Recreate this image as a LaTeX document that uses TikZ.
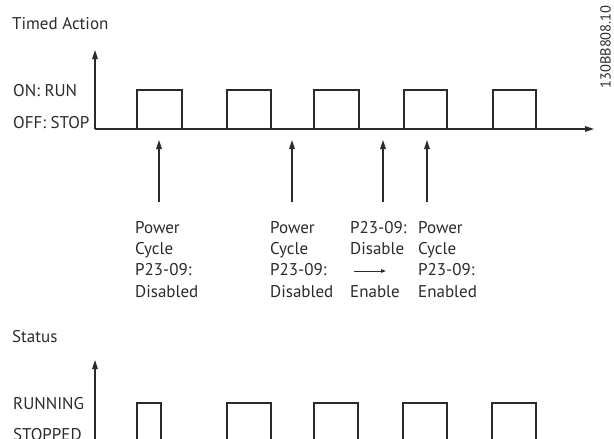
\documentclass[tikz,border=0pt]{standalone}
\usepackage{fontspec}
\setmainfont{PT Sans}
\usetikzlibrary{arrows.meta}
\definecolor{ink}{HTML}{2B2B2B}
\tikzset{
  sig/.style={draw=ink,line width=1.3pt},
  axis/.style={draw=ink,line width=1.2pt,-{Triangle[length=9pt,width=5.5pt]}},
  lbl/.style={anchor=base west,inner sep=0pt,text=ink},
  note/.style={anchor=base west,inner sep=0pt,text=ink,align=left}
}
\begin{document}
\begin{tikzpicture}[x=1pt,y=-1pt,line join=miter,line cap=butt,font=\fontsize{17}{21.3}\selectfont]
	\useasboundingbox (0,0) rectangle (614,439);
	\clip (0,0) rectangle (614,439);
	% timed action
	\node[lbl] (title1) at (12,30) {Timed Action};
	\node[lbl] (on) at (13,96.5) {ON: RUN};
	\node[lbl] (off) at (13,128.3) {OFF: STOP};
	\node[inner sep=0pt,rotate=90,text=ink,font=\fontsize{14.5}{14.5}\selectfont] (code) at (605.5,47) {130BB808.10};
	\coordinate (o1) at (95,129);
	\draw[axis] (o1) -- (95,50);
	\draw[axis] (o1) -- (594,129);
	\draw[sig] (o1)
		\foreach \a/\b in {137/182,227/271,314/359,404/447,493/536}{
			-- (\a,129) -- (\a,90) -- (\b,90) -- (\b,129)}
		-- (554,129);
	% events (base = last line)
	\node[note] (ev1) at (135,297) {Power\\Cycle\\P23-09:\\Disabled};
	\node[note] (ev2) at (270,297) {Power\\Cycle\\P23-09:\\Disabled};
	\node[note] (ev3) at (350,254.5) {P23-09:\\Disable};
	\node[lbl] (ev3b) at (350,297) {Enable};
	\node[note] (ev4) at (418,297) {Power\\Cycle\\P23-09:\\Enabled};
	\coordinate (ar1) at (354,271);
	\coordinate (ar2) at (386,271);
	\draw[draw=ink,line width=1pt,-{Triangle[length=5pt,width=3.5pt]}] (ar1) -- (ar2);
	\foreach \x [count=\i] in {159,292,383,427}{
		\coordinate (t\i) at (\x,202);
		\coordinate (h\i) at (\x,140);
		\draw[axis] (t\i) -- (h\i);
	}
	% status
	\node[lbl] (title2) at (12,342.7) {Status};
	\node[lbl] (run) at (13,409.3) {RUNNING};
	\node[lbl] (stop) at (13,440.5) {STOPPED};
	\coordinate (o2) at (95,455);
	\draw[axis] (o2) -- (95,360);
	\foreach \a/\b in {137/161,227/271,314/358,403/447,492/536}{
		\draw[sig] (\a,455) -- (\a,403) -- (\b,403) -- (\b,455);
	}
\end{tikzpicture}
\end{document}
